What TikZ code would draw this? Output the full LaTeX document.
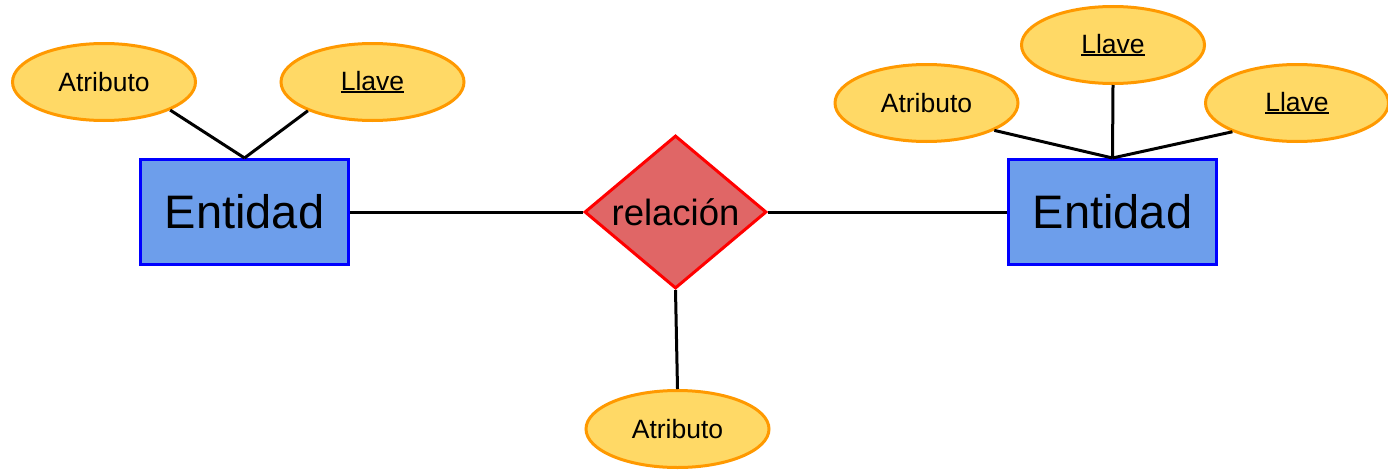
\documentclass[tikz,border=0pt]{standalone}
\usepackage{fontspec}
\setmainfont{Liberation Sans}
\usetikzlibrary{shapes.geometric}
\definecolor{attrfill}{HTML}{FFD966}
\definecolor{attrdraw}{HTML}{FF9900}
\definecolor{entfill}{HTML}{6D9EEB}
\definecolor{entdraw}{HTML}{0000FF}
\definecolor{relfill}{HTML}{E06666}
\definecolor{reldraw}{HTML}{FF0000}
\newcommand\myul[1]{\setbox0\hbox{#1}\rlap{\rule[-2.8pt]{\wd0}{2.2pt}}\box0}
\tikzset{
  attr/.style={ellipse, fill=attrfill, draw=attrdraw, line width=3pt, inner sep=0pt,
    minimum width=183pt, minimum height=77pt, font=\fontsize{26.5}{32}\selectfont},
  entity/.style={rectangle, fill=entfill, draw=entdraw, line width=3pt, inner sep=0pt,
    minimum width=208pt, minimum height=105pt, font=\fontsize{47}{56}\selectfont},
  rel/.style={diamond, aspect=1.186, fill=relfill, draw=reldraw, line width=3pt, inner sep=0pt,
    minimum width=182pt, minimum height=153pt, font=\fontsize{36.5}{44}\selectfont},
  conn/.style={draw=black, line width=3pt}
}
\begin{document}
\begin{tikzpicture}[x=1pt,y=-1pt]
\useasboundingbox (0,0) rectangle (1388,471);
\node[entity] (e1) at (244.5,212) {Entidad};
\node[entity] (e2) at (1112.5,212) {Entidad};
\node[rel] (r) at (675.5,212) {relación};
\node[attr] (a1) at (104,82) {Atributo};
\node[attr] (k1) at (372.5,82) {\myul{Llave}};
\node[attr] (a2) at (926.5,103) {Atributo};
\node[attr] (k2) at (1113,45) {\myul{Llave}};
\node[attr] (k3) at (1297,103) {\myul{Llave}};
\node[attr] (a3) at (677.5,429) {Atributo};
\draw[conn] (a1.-23) -- (e1.north);
\draw[conn] (k1.-156) -- (e1.north);
\draw[conn] (a2.-22) -- (e2.north);
\draw[conn] (k2.south) -- (e2.north);
\draw[conn] (k3.-156) -- (e2.north);
\draw[conn] (e1) -- (r);
\draw[conn] (r) -- (e2);
\draw[conn] (r.south) -- (a3.north);
\end{tikzpicture}
\end{document}
